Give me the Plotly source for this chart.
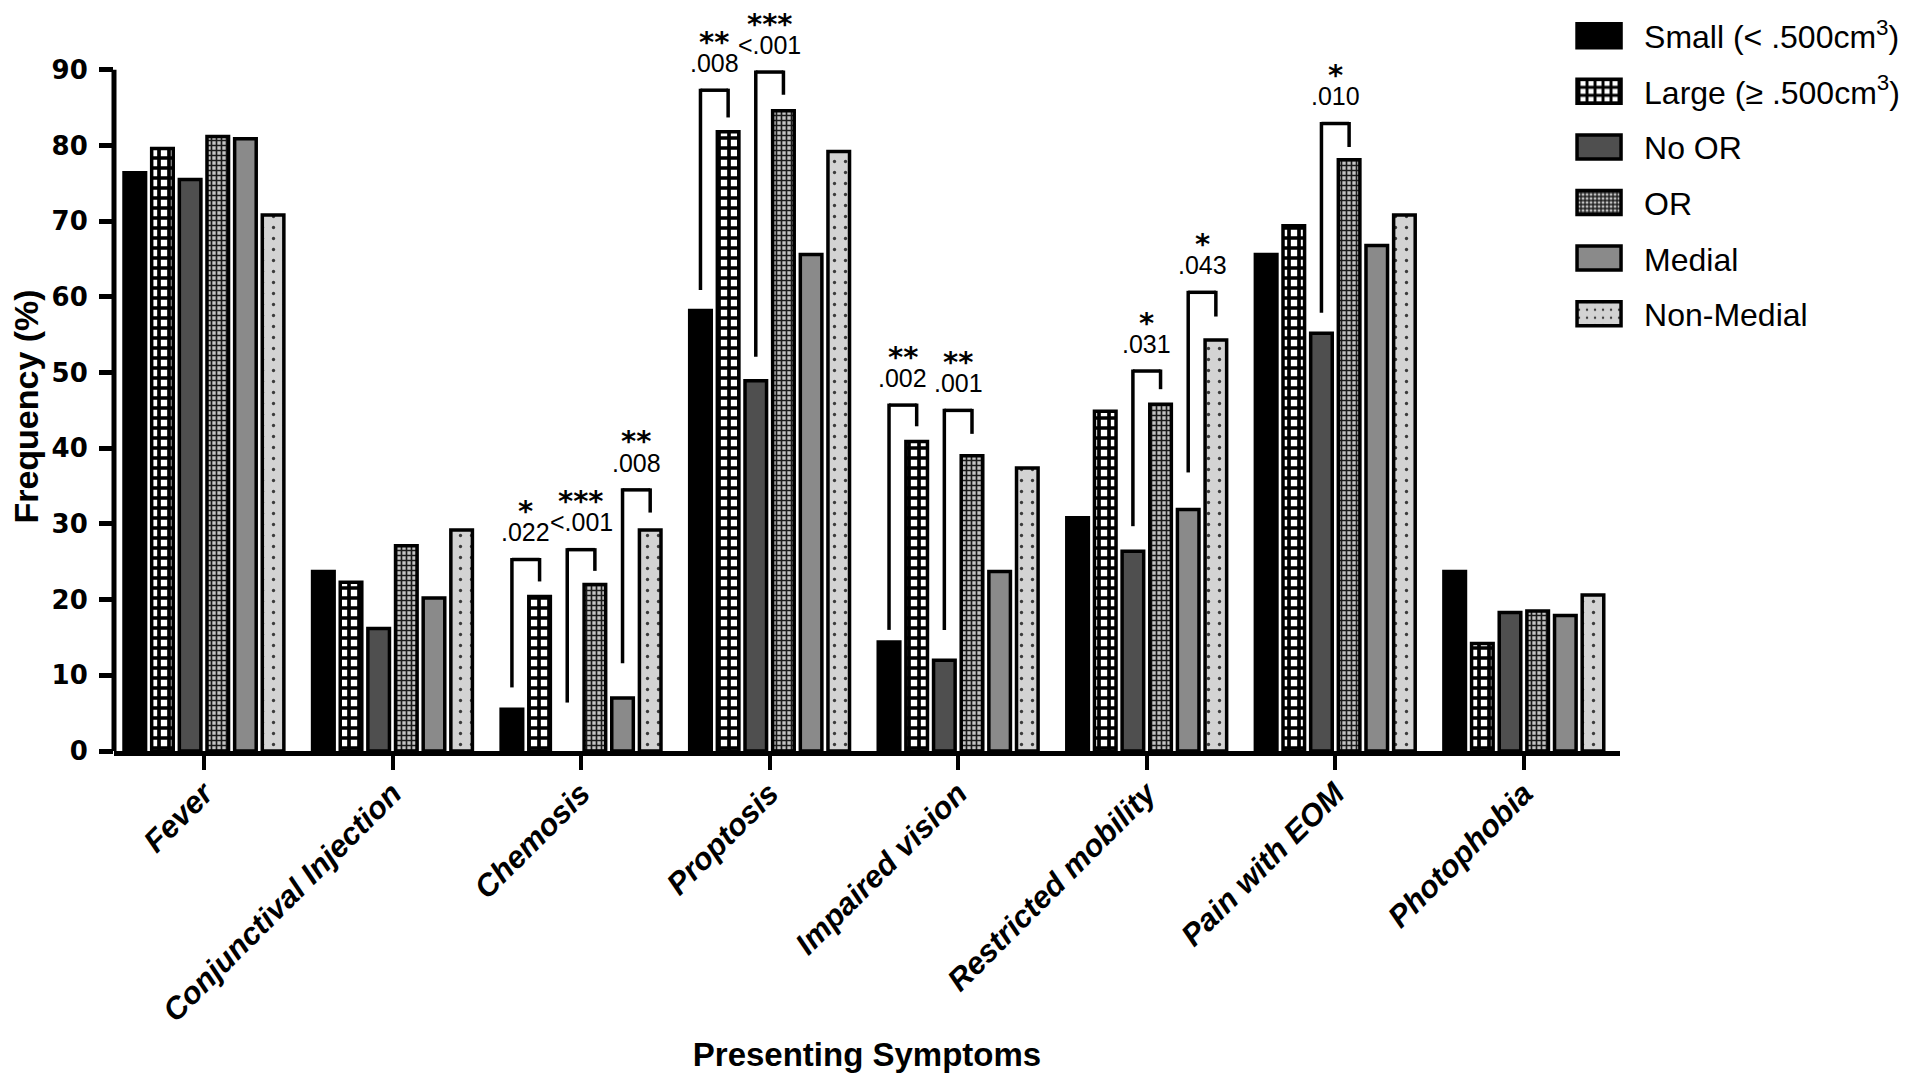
import plotly.graph_objects as go

categories = ["Fever", "Conjunctival Injection", "Chemosis", "Proptosis",
              "Impaired vision", "Restricted mobility", "Pain with EOM", "Photophobia"]

small = [76.4, 23.7, 5.5, 58.2, 14.4, 30.8, 65.6, 23.7]
large = [79.6, 22.3, 20.4, 81.8, 40.9, 44.9, 69.4, 14.2]
no_or = [75.5, 16.2, None, 48.9, 12.0, 26.4, 55.2, 18.3]
or_ = [81.2, 27.1, 22.0, 84.6, 39.0, 45.8, 78.1, 18.5]
medial = [80.9, 20.2, 7.0, 65.6, 23.7, 31.9, 66.8, 17.9]
non_medial = [70.8, 29.2, 29.2, 79.2, 37.4, 54.3, 70.8, 20.6]

series_names = ["Small (< .500cm<sup>3</sup>)", "Large (\u2265 .500cm<sup>3</sup>)",
                "No OR", "OR", "Medial", "Non-Medial"]

y_ticks = [0, 10, 20, 30, 40, 50, 60, 70, 80, 90]

# significance brackets: (category index, series a, series b, left-leg bottom, top, right-leg bottom, stars, p)
brackets = [
    (2, 0, 1, 8.4, 25.3, 22.4, "*", ".022"),
    (2, 2, 3, 6.4, 26.6, 23.8, "***", "<.001"),
    (2, 4, 5, 11.6, 34.5, 31.5, "**", ".008"),
    (3, 0, 1, 60.9, 87.3, 83.7, "**", ".008"),
    (3, 2, 3, 52.1, 89.7, 86.7, "***", "<.001"),
    (4, 0, 1, 16.0, 45.7, 42.9, "**", ".002"),
    (4, 2, 3, 16.0, 45.0, 41.9, "**", ".001"),
    (5, 2, 3, 29.7, 50.2, 47.8, "*", ".031"),
    (5, 4, 5, 36.8, 60.6, 57.4, "*", ".043"),
    (6, 2, 3, 57.9, 82.9, 79.8, "*", ".010"),
]

BARGAP = 0.12
LINE = dict(color="black", width=3.5)

styles = [
    dict(color="black"),
    dict(color="white", pattern=dict(shape="+", fgcolor="black", bgcolor="white",
                                     size=10, solidity=0.6, fillmode="replace")),
    dict(color="#4f4f4f"),
    dict(color="#b0b0b0", pattern=dict(shape="+", fgcolor="#1a1a1a", bgcolor="#c4c4c4",
                                       size=5, solidity=0.55, fillmode="replace")),
    dict(color="#8a8a8a"),
    dict(color="#d3d3d3", pattern=dict(shape=".", fgcolor="#3a3a3a", bgcolor="#d3d3d3",
                                       size=11, solidity=0.07, fillmode="replace")),
]

values = [small, large, no_or, or_, medial, non_medial]

fig = go.Figure()
for i, (name, vals, st) in enumerate(zip(series_names, values, styles)):
    fig.add_trace(go.Bar(
        x=categories, y=vals, name=name, legendgroup=f"g{i}",
        marker=dict(**st, line=LINE),
    ))

slot = (1 - BARGAP) / 6.0
shapes = []
annotations = []
for cat, a, b, yb1, ytop, yb2, stars, p in brackets:
    xa = cat + (a - 2.5) * slot
    xb = cat + (b - 2.5) * slot
    lw = dict(color="black", width=3.5)
    shapes.append(dict(type="line", xref="x", yref="y", x0=xa, x1=xa, y0=yb1, y1=ytop + 0.2, line=lw))
    shapes.append(dict(type="line", xref="x", yref="y", x0=xa, x1=xb, y0=ytop, y1=ytop, line=lw))
    shapes.append(dict(type="line", xref="x", yref="y", x0=xb, x1=xb, y0=ytop + 0.2, y1=yb2, line=lw))
    xm = (xa + xb) / 2
    annotations.append(dict(x=xm, y=ytop + 3.6, xref="x", yref="y", text=p, showarrow=False,
                            font=dict(family="Liberation Sans", size=25, color="black"),
                            yanchor="middle"))
    annotations.append(dict(x=xm, y=ytop + 6.4, xref="x", yref="y", text=stars, showarrow=False,
                            font=dict(family="DejaVu Sans", size=29, color="black", weight="bold"),
                            yanchor="middle"))

# y-axis title as rotated annotation, centred on the 0-90 span
annotations.append(dict(x=0, xref="paper", y=45.5, yref="y", xshift=-88, text="Frequency (%)",
                        textangle=-90, showarrow=False, xanchor="center", yanchor="middle",
                        font=dict(family="Liberation Sans", size=34, color="black", weight="bold")))

# y axis line from 0 to 90 only
shapes.append(dict(type="line", xref="paper", yref="y", x0=0, x1=0, y0=0, y1=90,
                   line=dict(color="black", width=5)))

fig.update_layout(
    width=1912, height=1077,
    margin=dict(l=106, r=300, t=5, b=334, autoexpand=False),
    paper_bgcolor="white", plot_bgcolor="white",
    barmode="group", bargap=BARGAP, bargroupgap=0.22,
    shapes=shapes, annotations=annotations,
    showlegend=True,
    legend=dict(xref="paper", yref="paper", x=0.9562, y=1.0062,
                xanchor="left", yanchor="top",
                font=dict(family="Liberation Sans", size=32, color="black"),
                tracegroupgap=11, itemwidth=80, bgcolor="rgba(0,0,0,0)"),
    xaxis=dict(
        type="category", range=[-0.477, 7.51],
        showline=True, linecolor="black", linewidth=5,
        ticks="outside", ticklen=14, tickwidth=4, tickcolor="black",
        tickangle=-45, showgrid=False, zeroline=False, ticklabelstandoff=-7,
        tickfont=dict(family="Liberation Sans", size=31, color="black", weight="bold", style="italic"),
        title=dict(text="Presenting Symptoms", standoff=17,
                   font=dict(family="Liberation Sans", size=33, color="black", weight="bold")),
    ),
    yaxis=dict(
        range=[0, 97.5], tickvals=y_ticks,
        showline=False, ticks="outside", ticklen=14, tickwidth=4.5, tickcolor="black",
        showgrid=False, zeroline=False, ticklabelstandoff=6,
        tickfont=dict(family="DejaVu Sans", size=26, color="black", weight="bold"),
    ),
)

post = """
var gd = document.getElementById('{plot_id}');
function fixLegend(){
  var paths = gd.querySelectorAll('.legend .legendpoints path');
  paths.forEach(function(p){ p.setAttribute('d', 'M22,12H-22V-12H22Z'); p.style.strokeWidth = '3.5px'; });
}
fixLegend();
gd.on('plotly_afterplot', fixLegend);
"""

fig.write_html("out.html", post_script=post)
